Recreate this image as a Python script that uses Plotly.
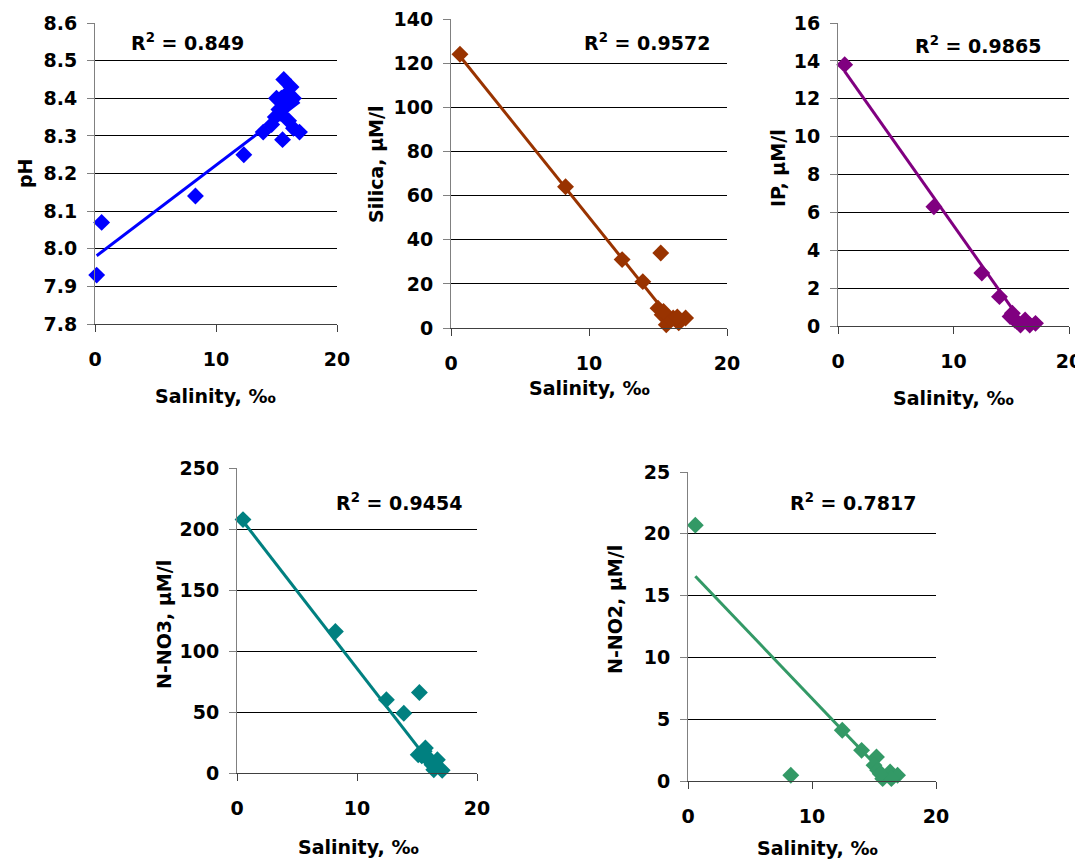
import plotly.graph_objects as go

W, H = 1083, 860
OFF = 8  # page body margin in the browser; positions below are in screen pixels

# ---------------- data ----------------
ph_sal = [0.14, 0.55, 8.3, 12.3, 13.9, 15.6, 16.2, 15.0, 16.4, 15.8, 15.4, 14.9, 16.0,
          15.5, 16.9, 14.6, 16.4, 15.3, 15.8, 15.2]
ph_val = [7.93, 8.07, 8.14, 8.25, 8.31, 8.45, 8.43, 8.40, 8.40, 8.38, 8.40, 8.35, 8.34,
          8.29, 8.31, 8.33, 8.32, 8.36, 8.41, 8.37]
ph_fit = (7.978, 0.0244)          # intercept, slope
ph_r2 = "0.849"

si_sal = [0.65, 8.3, 12.4, 13.9, 15.2, 15.0, 15.3, 15.6, 16.1, 16.5, 17.0, 15.9, 15.4, 16.4]
si_val = [124, 64, 31, 21, 34, 9, 6, 1.5, 4.5, 2.3, 4.5, 3.8, 7.5, 5]
si_fit = (128.2, -7.8)
si_r2 = "0.9572"

ip_sal = [0.58, 8.3, 12.45, 13.98, 14.9, 15.1, 15.3, 15.5, 15.8, 16.2, 16.6, 17.1]
ip_val = [13.8, 6.3, 2.8, 1.55, 0.5, 0.67, 0.32, 0.23, 0.05, 0.32, 0.05, 0.14]
ip_fit = (13.95, -0.864)
ip_r2 = "0.9865"

no3_sal = [0.5, 8.2, 12.45, 13.9, 15.2, 15.1, 15.7, 15.8, 16.25, 16.7, 16.4, 17.1, 15.6, 16.1, 15.4]
no3_val = [207.7, 116, 60, 49, 66, 15, 20.5, 12.3, 6.8, 10.9, 2.7, 2.2, 17.8, 10.9, 14]
no3_fit = (212.7, -12.7)
no3_r2 = "0.9454"

no2_sal = [0.59, 8.29, 12.44, 14.0, 15.2, 15.0, 15.3, 15.7, 16.3, 16.9, 16.4, 15.5]
no2_val = [20.7, 0.46, 4.1, 2.48, 1.94, 1.27, 0.86, 0.19, 0.73, 0.46, 0.19, 0.59]
no2_fit = (17.18, -1.05)
no2_r2 = "0.7817"

x_title = "Salinity, ‰"

# ---------------- layout helpers ----------------
FONT = "DejaVu Sans, Liberation Sans, Arial"
FS = 19


def px(x):
    return (x - OFF) / W


def py(y):
    return 1 - (y - OFF) / H


panels = [
    (ph_sal, ph_val, ph_fit, ph_r2, "#0000FF", "pH", [7.8, 8.6], 0.1, ".1f",
     (95, 337, 23, 324), (187, 42), (25, 173), (215, 396)),
    (si_sal, si_val, si_fit, si_r2, "#993300", "Silica, µM/l", [0, 140], 20, "d",
     (451, 727, 19, 328), (647, 42), (376, 165), (589, 388)),
    (ip_sal, ip_val, ip_fit, ip_r2, "#800080", "IP, µM/l", [0, 16], 2, "d",
     (838, 1069, 23, 326), (978, 45), (778, 168), (953, 398)),
    (no3_sal, no3_val, no3_fit, no3_r2, "#008080", "N-NO3, µM/l", [0, 250], 50, "d",
     (237, 477, 468, 773), (399, 502), (164, 625), (358, 847)),
    (no2_sal, no2_val, no2_fit, no2_r2, "#339966", "N-NO2, µM/l", [0, 25], 5, "d",
     (688, 936, 472, 781), (853, 502), (615, 610), (817, 848)),
]

fig = go.Figure()
annotations = []
layout_axes = {}

for i, (xs, ys, fit, r2, col, ylab, yr, dt, fmt, box, r2pos, ylpos, xlpos) in enumerate(panels):
    n = i + 1
    xa = "x" if n == 1 else f"x{n}"
    ya = "y" if n == 1 else f"y{n}"
    x0, x1, yt, yb = box
    xmin, xmax = min(xs), max(xs)
    a, b = fit
    fig.add_trace(go.Scatter(x=[xmin, xmax], y=[a + b * xmin, a + b * xmax], mode="lines",
                             line=dict(color=col, width=3), xaxis=xa, yaxis=ya,
                             hoverinfo="skip"))
    fig.add_trace(go.Scatter(x=xs, y=ys, mode="markers",
                             marker=dict(symbol="diamond", size=13, color=col,
                                         line=dict(width=0)),
                             cliponaxis=False, xaxis=xa, yaxis=ya))
    layout_axes[f"xaxis{'' if n == 1 else n}"] = dict(
        domain=[px(x0), px(x1)], anchor=ya, range=[0, 20], dtick=10, tick0=0,
        showgrid=False, zeroline=False, showline=True, linecolor="#404040", linewidth=1,
        ticks="outside", ticklen=7, tickcolor="#404040", ticklabelstandoff=11,
        automargin=False, ticklabeloverflow="allow",
        tickfont=dict(family=FONT, size=FS, color="black", weight="bold"), fixedrange=True)
    layout_axes[f"yaxis{'' if n == 1 else n}"] = dict(
        domain=[py(yb), py(yt)], anchor=xa, range=yr, dtick=dt, tick0=yr[0],
        tickformat=fmt, showgrid=True, gridcolor="black", gridwidth=1, zeroline=False,
        showline=True, linecolor="#808080", linewidth=1, automargin=False,
        ticklabeloverflow="allow",
        ticks="outside", ticklen=7, tickcolor="#808080", ticklabelstandoff=6,
        tickfont=dict(family=FONT, size=FS, color="black", weight="bold"), fixedrange=True)
    annotations.append(dict(x=px(r2pos[0]), y=py(r2pos[1]), xref="paper", yref="paper",
                            text=f"<b>R<sup>2</sup> = {r2}</b>", showarrow=False,
                            xanchor="center", yanchor="middle",
                            font=dict(family=FONT, size=FS, color="black")))
    annotations.append(dict(x=px(ylpos[0]), y=py(ylpos[1]), xref="paper", yref="paper",
                            text=f"<b>{ylab}</b>", showarrow=False, textangle=-90,
                            xanchor="center", yanchor="middle",
                            font=dict(family=FONT, size=FS, color="black")))
    annotations.append(dict(x=px(xlpos[0]), y=py(xlpos[1]), xref="paper", yref="paper",
                            text=f"<b>{x_title}</b>", showarrow=False,
                            xanchor="center", yanchor="middle",
                            font=dict(family=FONT, size=FS, color="black")))

fig.update_layout(width=W, height=H, margin=dict(l=0, r=0, t=0, b=0, autoexpand=False),
                  paper_bgcolor="white", plot_bgcolor="white", showlegend=False,
                  annotations=annotations, **layout_axes)

fig.write_html("out.html")
